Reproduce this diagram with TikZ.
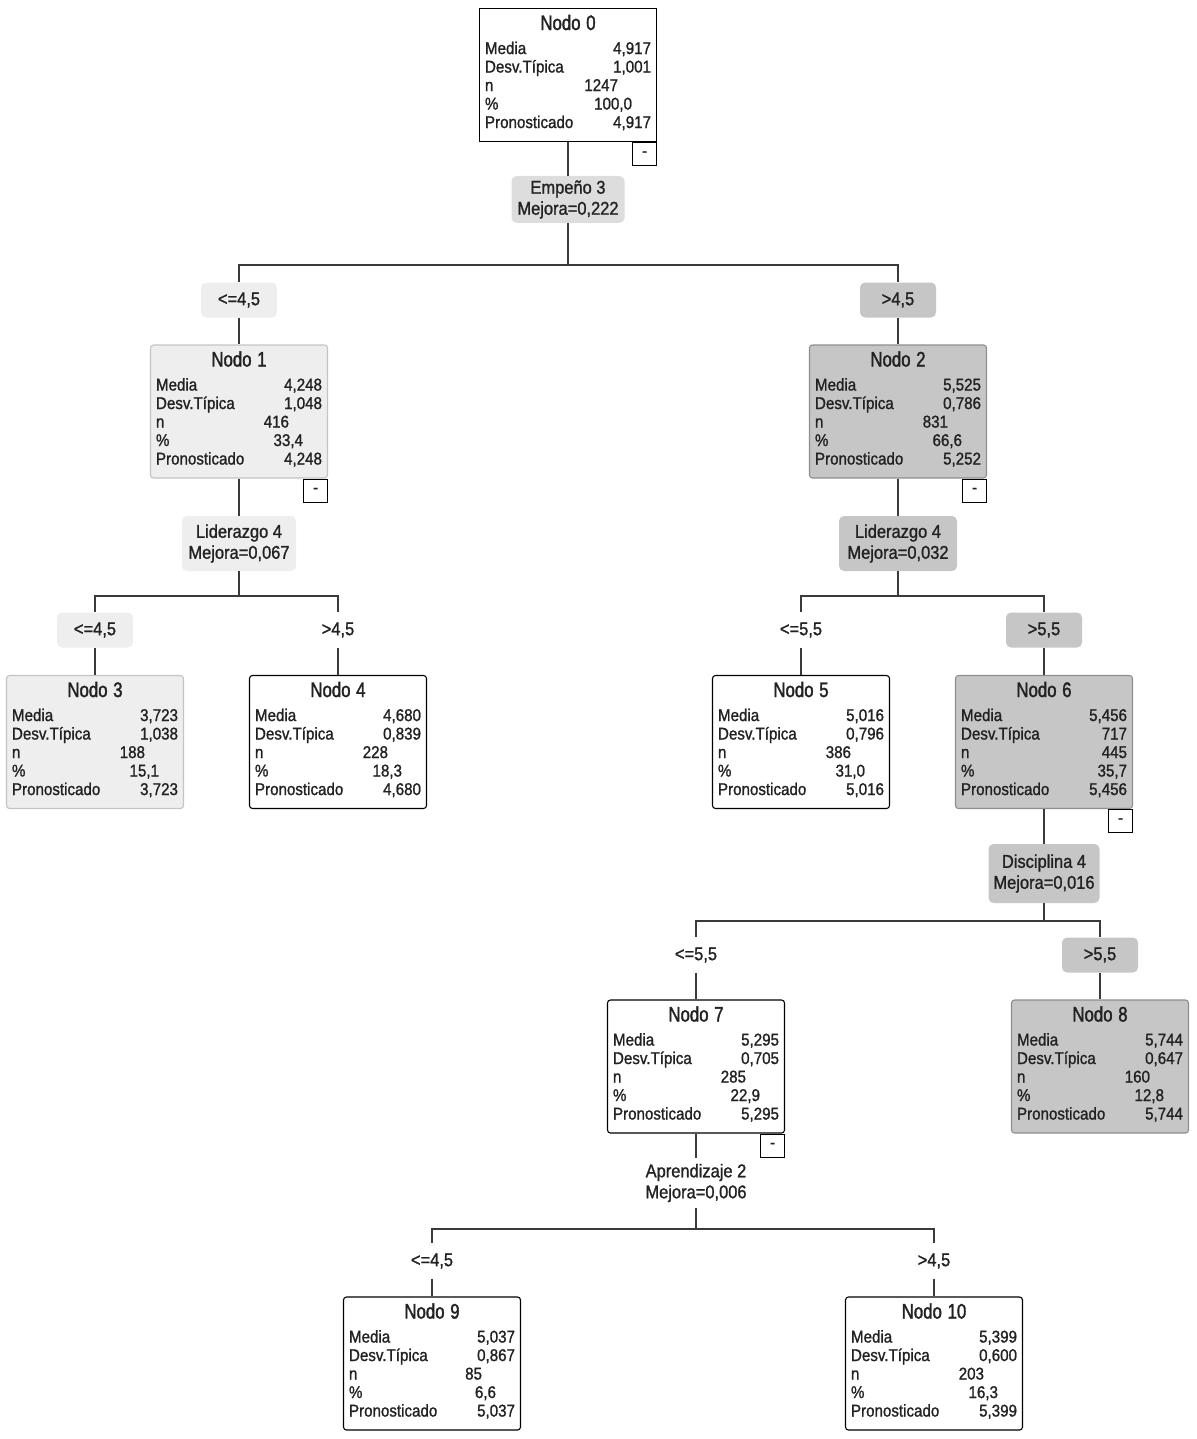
\documentclass[tikz,border=0pt]{standalone}
\usepackage{fontspec}
\setmainfont{Liberation Sans}[FakeStretch=0.89, FakeBold=1.2]
\newfontfamily\titulofont{Liberation Sans}[FakeStretch=0.8, FakeBold=1.6]
\usetikzlibrary{positioning,calc}

\definecolor{grisclaro}{HTML}{EEEEEE}
\definecolor{grismedio}{HTML}{DDDDDD}
\definecolor{grisoscuro}{HTML}{C6C6C6}
\definecolor{bordeclaro}{HTML}{C4C4C4}
\definecolor{bordeoscuro}{HTML}{8E8E8E}
\definecolor{linea}{HTML}{3A3A3A}
\definecolor{texto}{HTML}{222222}

\def\desn{33pt}
\def\desp{19pt}
\newcommand{\datos}[6]{%
  {\titulofont\fontsize{21}{22}\selectfont #1}\\[5.5pt]
  \makebox[\linewidth]{Media\hfill #2}\\
  \makebox[\linewidth]{Desv.Típica\hfill #3}\\
  \makebox[\linewidth]{n\hfill #4\hspace*{\desn}}\\
  \makebox[\linewidth]{\%\hfill #5\hspace*{\desp}}\\
  \makebox[\linewidth]{Pronosticado\hfill #6}\par\vspace*{5pt}}

\tikzset{font=\fontsize{17}{18.5}\selectfont,
  nodo/.style={draw=black, rounded corners=3pt, minimum width=177pt,
    minimum height=133pt, text width=166pt, inner sep=0pt, align=center,
    text=texto, line width=1.1pt},
  claro/.style={nodo, fill=grisclaro, draw=bordeclaro},
  oscuro/.style={nodo, fill=grisoscuro, draw=bordeoscuro},
  blanco/.style={nodo, fill=white},
  corte/.style={rounded corners=5pt, align=center, inner sep=0pt,
    font=\fontsize{18.5}{21}\selectfont, text=texto},
  umbral/.style={corte, minimum width=76pt, minimum height=35pt},
  menos/.style={draw=black, fill=white, minimum width=24pt, minimum height=23pt,
    inner sep=0pt, anchor=north east, line width=0.9pt, text=texto},
  rama/.style={draw=linea, line width=1.3pt},
}

\begin{document}
\begin{tikzpicture}[x=1pt, y=-1pt]
	\useasboundingbox (0,0) rectangle (1196,1439);

	% nodos del arbol
	\node[blanco, sharp corners] (n0) at (568, 75) {\datos{Nodo 0}{4,917}{1,001}{1247}{100,0}{4,917}};
	\node[claro] (n1) at (239, 411.5) {\datos{Nodo 1}{4,248}{1,048}{416}{33,4}{4,248}};
	\node[oscuro] (n2) at (898, 411.5) {\datos{Nodo 2}{5,525}{0,786}{831}{66,6}{5,252}};
	\node[claro] (n3) at (95, 742) {\datos{Nodo 3}{3,723}{1,038}{188}{15,1}{3,723}};
	\node[blanco] (n4) at (338, 742) {\datos{Nodo 4}{4,680}{0,839}{228}{18,3}{4,680}};
	\node[blanco] (n5) at (801, 742) {\datos{Nodo 5}{5,016}{0,796}{386}{31,0}{5,016}};
	\node[oscuro] (n6) at (1044, 742) {\def\desn{0pt}\def\desp{0pt}\datos{Nodo 6}{5,456}{717}{445}{35,7}{5,456}};
	\node[blanco] (n7) at (696, 1066.5) {\datos{Nodo 7}{5,295}{0,705}{285}{22,9}{5,295}};
	\node[oscuro] (n8) at (1100, 1066.5) {\datos{Nodo 8}{5,744}{0,647}{160}{12,8}{5,744}};
	\node[blanco] (n9) at (432, 1363.5) {\datos{Nodo 9}{5,037}{0,867}{85}{6,6}{5,037}};
	\node[blanco] (n10) at (934, 1363.5) {\datos{Nodo 10}{5,399}{0,600}{203}{16,3}{5,399}};

	% botones
	\node[menos] (m0) at (n0.south east) {-};
	\node[menos] (m1) at (n1.south east) {-};
	\node[menos] (m2) at (n2.south east) {-};
	\node[menos] (m6) at (n6.south east) {-};
	\node[menos] (m7) at (n7.south east) {-};

	% variables de corte
	\node[corte, fill=grismedio, minimum width=113pt, minimum height=47pt] (s0) at (568, 199.5) {Empeño 3\\Mejora=0,222};
	\node[corte, fill=grisclaro, minimum width=114pt, minimum height=55pt] (s1) at (239, 543.5) {Liderazgo 4\\Mejora=0,067};
	\node[corte, fill=grisoscuro, minimum width=118pt, minimum height=55pt] (s2) at (898, 543.5) {Liderazgo 4\\Mejora=0,032};
	\node[corte, fill=grisoscuro, minimum width=111pt, minimum height=59pt] (s6) at (1044, 873.5) {Disciplina 4\\Mejora=0,016};
	\node[corte, minimum width=111pt, minimum height=50pt] (s7) at (696, 1183) {Aprendizaje 2\\Mejora=0,006};

	% umbrales
	\node[umbral, fill=grisclaro] (l1) at (239, 300) {<=4,5};
	\node[umbral, fill=grisoscuro] (l2) at (898, 300) {>4,5};
	\node[umbral, fill=grisclaro] (l3) at (95, 630) {<=4,5};
	\node[umbral] (l4) at (338, 630) {>4,5};
	\node[umbral] (l5) at (801, 630) {<=5,5};
	\node[umbral, fill=grisoscuro] (l6) at (1044, 630) {>5,5};
	\node[umbral] (l7) at (696, 955) {<=5,5};
	\node[umbral, fill=grisoscuro] (l8) at (1100, 955) {>5,5};
	\node[umbral] (l9) at (432, 1261) {<=4,5};
	\node[umbral] (l10) at (934, 1261) {>4,5};

	\coordinate (b0) at (568, 265);
	\coordinate (b1) at (239, 596);
	\coordinate (b2) at (898, 596);
	\coordinate (b6) at (1044, 921);
	\coordinate (b7) at (696, 1229);

	% ramas
	\draw[rama] (n0.south) -- (s0.north);
	\draw[rama] (s0.south) -- (b0);
	\draw[rama] (b0) -| (l1.north);
	\draw[rama] (b0) -| (l2.north);
	\draw[rama] (l1.south) -- (n1.north);
	\draw[rama] (l2.south) -- (n2.north);

	\draw[rama] (n1.south) -- (s1.north);
	\draw[rama] (s1.south) -- (b1);
	\draw[rama] (b1) -| (l3.north);
	\draw[rama] (b1) -| (l4.north);
	\draw[rama] (l3.south) -- (n3.north);
	\draw[rama] (l4.south) -- (n4.north);

	\draw[rama] (n2.south) -- (s2.north);
	\draw[rama] (s2.south) -- (b2);
	\draw[rama] (b2) -| (l5.north);
	\draw[rama] (b2) -| (l6.north);
	\draw[rama] (l5.south) -- (n5.north);
	\draw[rama] (l6.south) -- (n6.north);

	\draw[rama] (n6.south) -- (s6.north);
	\draw[rama] (s6.south) -- (b6);
	\draw[rama] (b6) -| (l7.north);
	\draw[rama] (b6) -| (l8.north);
	\draw[rama] (l7.south) -- (n7.north);
	\draw[rama] (l8.south) -- (n8.north);

	\draw[rama] (n7.south) -- (s7.north);
	\draw[rama] (s7.south) -- (b7);
	\draw[rama] (b7) -| (l9.north);
	\draw[rama] (b7) -| (l10.north);
	\draw[rama] (l9.south) -- (n9.north);
	\draw[rama] (l10.south) -- (n10.north);
\end{tikzpicture}
\end{document}
